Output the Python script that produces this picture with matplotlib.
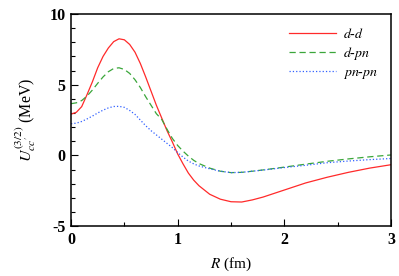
import numpy as np
import matplotlib
matplotlib.use('Agg')
from matplotlib import pyplot as plt
from matplotlib.ticker import MultipleLocator

plt.rcParams['font.family'] = 'Liberation Serif'
plt.rcParams['mathtext.fontset'] = 'stix'
plt.rcParams['axes.unicode_minus'] = False

# R (fm)
r = [0, 0.05, 0.1, 0.15, 0.2, 0.25, 0.3, 0.35, 0.4, 0.45, 0.5, 0.55, 0.6,
     0.65, 0.7, 0.75, 0.8, 0.85, 0.9, 0.95, 1.0, 1.05, 1.1, 1.15, 1.2, 1.3,
     1.4, 1.5, 1.6, 1.7, 1.8, 1.9, 2.0, 2.2, 2.4, 2.6, 2.8, 3.0]

u_dd = [2.92, 3.05, 3.45, 4.3, 5.2, 6.2, 7.0, 7.6, 8.05, 8.25, 8.18, 7.85, 7.3,
        6.5, 5.55, 4.55, 3.55, 2.65, 1.75, 0.95, 0.1, -0.6, -1.25, -1.75, -2.15, -2.75,
        -3.1, -3.28, -3.3, -3.15, -2.95, -2.7, -2.45, -1.95, -1.55, -1.2, -0.9, -0.66]

u_dpn = [3.66, 3.72, 3.88, 4.2, 4.62, 5.1, 5.55, 5.92, 6.15, 6.2, 6.08, 5.8, 5.35,
         4.8, 4.15, 3.55, 2.95, 2.55, 1.85, 1.2, 0.7, 0.3, -0.05, -0.35, -0.58, -0.9,
         -1.12, -1.22, -1.2, -1.12, -1.03, -0.93, -0.83, -0.62, -0.42, -0.25, -0.1, 0.03]

u_pnpn = [2.24, 2.28, 2.4, 2.58, 2.78, 3.0, 3.2, 3.36, 3.46, 3.47, 3.4, 3.18, 2.9,
          2.5, 2.1, 1.75, 1.45, 1.15, 0.85, 0.55, 0.2, -0.12, -0.4, -0.6, -0.75, -0.95,
          -1.12, -1.22, -1.2, -1.12, -1.04, -0.95, -0.86, -0.7, -0.52, -0.4, -0.3, -0.22]

fig = plt.figure(figsize=(3.99, 2.76), dpi=100)
ax = fig.add_axes([0.178, 0.181, 0.802, 0.768])

ax.plot(r, u_dd, '-', color='#ff2a2a', lw=0.9, label='$d$-$d$')
ax.plot(r, u_dpn, '--', color='#3aa63a', lw=0.9, dashes=(5, 3), label='$d$-$pn$')
ax.plot(r, u_pnpn, ':', color='#3060ff', lw=0.9, label='$pn$-$pn$')

ax.set_xlim(0, 3)
ax.set_ylim(-5, 10)
ax.xaxis.set_major_locator(MultipleLocator(1))
ax.xaxis.set_minor_locator(MultipleLocator(0.5))
ax.yaxis.set_major_locator(MultipleLocator(5))
ax.yaxis.set_minor_locator(MultipleLocator(1))
ax.tick_params(which='both', direction='in', top=False, right=False, width=0.8)
ax.tick_params(which='major', length=5, labelsize=11.5, pad=4)
ax.tick_params(which='minor', length=3)
for lab in ax.get_xticklabels() + ax.get_yticklabels():
    lab.set_fontweight('bold')
for s in ax.spines.values():
    s.set_linewidth(1.1)

ax.set_xlabel('$R$ (fm)', fontsize=11, labelpad=6)
ax.set_ylabel(r"$U_{cc^{\prime}}^{(3/2)}$ (MeV)", fontsize=11.5, labelpad=8)

ax.legend(loc='upper right', frameon=False, fontsize=10, handlelength=3.4,
          labelspacing=0.3, borderaxespad=0.6, handletextpad=0.5,
          borderpad=0.3)

fig.savefig('out.png', dpi=100)
